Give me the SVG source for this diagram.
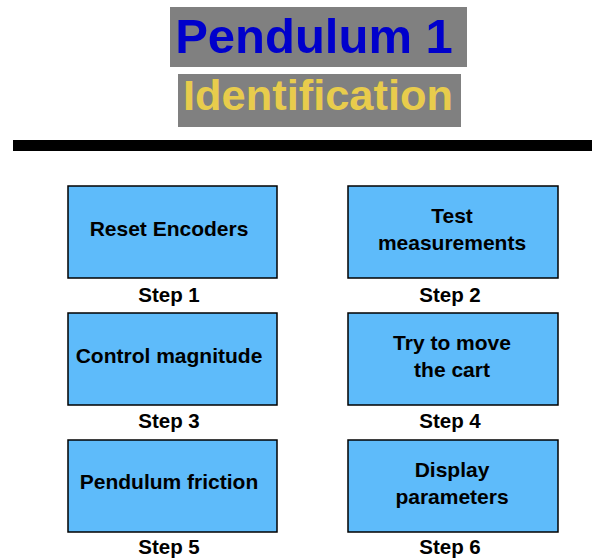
<svg xmlns="http://www.w3.org/2000/svg" width="592" height="559" viewBox="0 0 592 559">
<style>
.box{fill:#5EBBFA;stroke:#000;stroke-width:1.5}
.t{font-family:"Liberation Sans",Arial,sans-serif;font-weight:bold;font-size:21px;fill:#000;text-anchor:middle}
.s{font-family:"Liberation Sans",Arial,sans-serif;font-weight:bold;font-size:20.5px;fill:#000;text-anchor:middle}
</style>
<rect x="0" y="0" width="592" height="559" fill="#fff"/>
<g id="title">
<rect x="170" y="7" width="297" height="60" fill="#808080"/>
<text x="314" y="53" font-family="Liberation Sans,Arial,sans-serif" font-weight="bold" font-size="49" fill="#0000CC" text-anchor="middle">Pendulum 1</text>
<rect x="178" y="74" width="283" height="53" fill="#808080"/>
<text x="318" y="110" font-family="Liberation Sans,Arial,sans-serif" font-weight="bold" font-size="42" fill="#E8CC4C" text-anchor="middle" textLength="270" lengthAdjust="spacingAndGlyphs">Identification</text>
</g>
<rect x="13" y="140" width="579" height="11" fill="#000"/>
<g id="step1">
<rect class="box" x="68" y="186" width="209" height="92"/>
<text class="t" x="169" y="236">Reset Encoders</text>
<text class="s" x="169" y="302">Step 1</text>
</g>
<g id="step2">
<rect class="box" x="348" y="186" width="210" height="92"/>
<text class="t" x="452" y="223">Test</text>
<text class="t" x="452" y="250">measurements</text>
<text class="s" x="450" y="302">Step 2</text>
</g>
<g id="step3">
<rect class="box" x="68" y="313" width="209" height="92"/>
<text class="t" x="169" y="363">Control magnitude</text>
<text class="s" x="169" y="428">Step 3</text>
</g>
<g id="step4">
<rect class="box" x="348" y="313" width="210" height="92"/>
<text class="t" x="452" y="350">Try to move</text>
<text class="t" x="452" y="377">the cart</text>
<text class="s" x="450" y="428">Step 4</text>
</g>
<g id="step5">
<rect class="box" x="68" y="440" width="209" height="92"/>
<text class="t" x="169" y="489">Pendulum friction</text>
<text class="s" x="169" y="554">Step 5</text>
</g>
<g id="step6">
<rect class="box" x="348" y="440" width="210" height="92"/>
<text class="t" x="452" y="477">Display</text>
<text class="t" x="452" y="504">parameters</text>
<text class="s" x="450" y="554">Step 6</text>
</g>
<g id="connectors"/>
</svg>
